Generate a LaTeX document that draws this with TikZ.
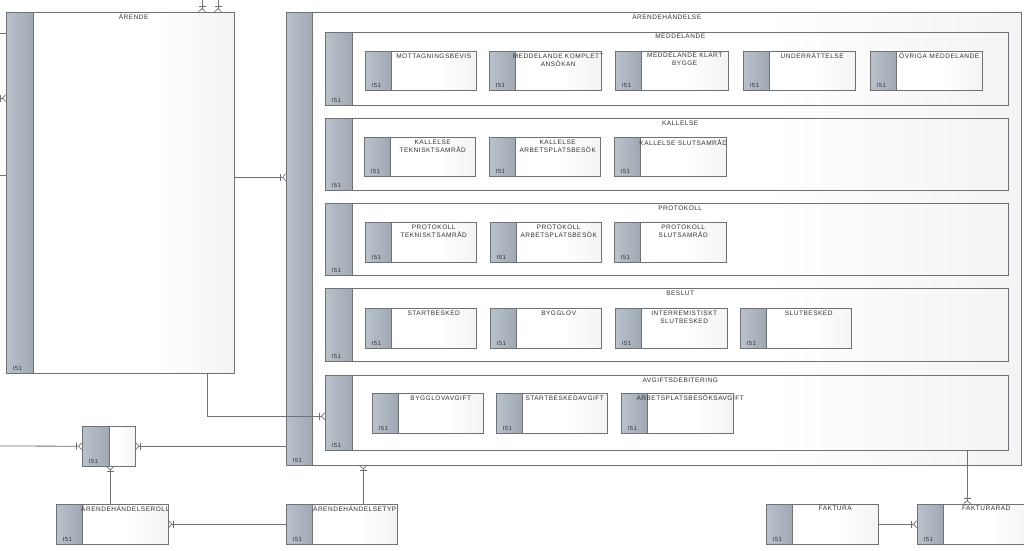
\documentclass[tikz,border=0pt]{standalone}
\usepackage{fontspec}
\setmainfont{Liberation Sans}
\newfontfamily\lblfont[LetterSpace=8]{Liberation Sans}
\usetikzlibrary{calc,arrows.meta}
\definecolor{edge}{RGB}{110,113,117}
\definecolor{stripL}{RGB}{186,194,202}
\definecolor{stripR}{RGB}{160,169,179}
\definecolor{txt}{RGB}{50,50,50}
\definecolor{shadeR}{RGB}{226,227,229}
\pgfdeclarehorizontalshading{entshade}{100bp}{color(0bp)=(white); color(50bp)=(white); color(58bp)=(white!99!shadeR); color(100bp)=(shadeR)}
\tikzset{
  entbox/.style={rectangle, inner sep=0pt, shading=entshade, draw=none},
  stripshade/.style={left color=stripL, right color=stripR},
  entline/.style={draw=edge, line width=0.8pt},
  lbl/.style={font=\lblfont\fontsize{6.5}{8}\selectfont, text=txt, align=center, inner sep=2.3pt},
  idl/.style={font=\lblfont\fontsize{6}{6.5}\selectfont, text=txt, inner sep=2.5pt, xshift=4pt},
  rel/.style={draw=edge, line width=0.8pt},
  crow/.style={rel, -{Bar[width=7pt,length=0.8pt,sep=1.2pt]Straight Barb[reversed,length=3pt,width=7pt,line width=0.7pt]}},
}
% #1 name, #2 x1, #3 y1, #4 x2, #5 y2, #6 label, #7 strip width
\newcommand\ent[7]{%
  \node[entbox, anchor=north west, minimum width={#4pt-#2pt}, minimum height={#5pt-#3pt}] (#1) at (#2,#3) {};
  \shade[stripshade] (#1.north west) rectangle ([xshift=#7pt]#1.south west);
  \draw[entline] ([xshift=#7pt]#1.north west) -- ([xshift=#7pt]#1.south west);
  \node[lbl, anchor=north] (#1-t) at ($([xshift=#7pt]#1.north west)!0.5!(#1.north east)$) {#6};
  \node[idl, anchor=south west] (#1-i) at (#1.south west) {I51};
  \draw[entline] (#1.north west) rectangle (#1.south east);
}
\begin{document}
\begin{tikzpicture}[x=1pt,y=-1pt]
\useasboundingbox (0,0) rectangle (1024,550);
\clip (0,0) rectangle (1024,550);
\fill[white] (0,0) rectangle (1024,550);

\ent{arende}{6}{12}{234}{373}{ÄRENDE}{27}
\ent{arh}{286}{12}{1021}{465}{ÄRENDEHÄNDELSE}{26}

\ent{medd}{325}{32}{1008}{105}{MEDDELANDE}{27}
\ent{kall}{325}{118}{1008}{190}{KALLELSE}{27}
\ent{prot}{325}{203}{1008}{275}{PROTOKOLL}{27}
\ent{besl}{325}{288}{1008}{361}{BESLUT}{27}
\ent{avg}{325}{375}{1008}{450}{AVGIFTSDEBITERING}{27}

\ent{m1}{365}{51}{476}{90}{MOTTAGNINGSBEVIS}{26}
\ent{m2}{489}{51}{601}{90}{MEDDELANDE KOMPLETT\\ANSÖKAN}{26}
\ent{m3}{615}{51}{728}{90}{MEDDELANDE KLART\\BYGGE}{26}
\ent{m4}{743}{51}{855}{90}{UNDERRÄTTELSE}{26}
\ent{m5}{870}{51}{982}{90}{ÖVRIGA MEDDELANDE}{26}

\ent{k1}{364}{137}{475}{176}{KALLELSE\\TEKNISKTSAMRÅD}{26}
\ent{k2}{489}{137}{600}{176}{KALLELSE\\ARBETSPLATSBESÖK}{26}
\ent{k3}{614}{137}{726}{176}{KALLELSE SLUTSAMRÅD}{26}

\ent{p1}{365}{222}{476}{262}{PROTOKOLL\\TEKNISKTSAMRÅD}{26}
\ent{p2}{490}{222}{601}{262}{PROTOKOLL\\ARBETSPLATSBESÖK}{26}
\ent{p3}{614}{222}{726}{262}{PROTOKOLL\\SLUTSAMRÅD}{26}

\ent{b1}{365}{308}{476}{348}{STARTBESKED}{26}
\ent{b2}{490}{308}{601}{348}{BYGGLOV}{26}
\ent{b3}{615}{308}{727}{348}{INTERREMISTISKT\\SLUTBESKED}{26}
\ent{b4}{740}{308}{851}{348}{SLUTBESKED}{26}

\ent{a1}{372}{393}{483}{433}{BYGGLOVAVGIFT}{26}
\ent{a2}{496}{393}{607}{433}{STARTBESKEDAVGIFT}{26}
\ent{a3}{621}{393}{733}{433}{ARBETSPLATSBESÖKSAVGIFT}{26}

\ent{sm}{82}{426}{135}{466}{}{27}
\ent{roll}{56}{504}{168}{544}{ÄRENDEHÄNDELSEROLL}{26}
\ent{typ}{286}{504}{397}{544}{ÄRENDEHÄNDELSETYP}{26}
\ent{fak}{766}{504}{878}{544}{FAKTURA}{26}
\ent{fr}{917}{504}{1029}{544}{FAKTURARAD}{26}

% free ends of connectors leaving the picture
\coordinate (s1) at (0,33);
\coordinate (s2) at (0,98);
\coordinate (s3) at (0,175);
\coordinate (s4) at (202,0);
\coordinate (s5) at (218,0);
\coordinate (s6) at (0,446);

\draw[rel] (s1) -- (s1 -| arende.west);
\draw[crow] (s2) -- (s2 -| arende.west);
\draw[rel] (s3) -- (s3 -| arende.west);
\draw[crow] (s4) -- (s4 |- arende.north);
\draw[crow] (s5) -- (s5 |- arende.north);
\draw[crow] (s6) -- (sm.west);

\draw[crow] ([yshift=15.5pt]arende.east) -- ([yshift=15.5pt]arende.east -| arh.west);
\draw[crow] ([xshift=-27pt]arende.south east) |- ([yshift=-3.5pt]avg.west);
\draw[crow] (arh.west |- sm.east) -- (sm.east);
\draw[crow] ([xshift=1.5pt]sm.south |- roll.north) -- ([xshift=1.5pt]sm.south);
\draw[crow] (typ.west) -- (roll.east);
\draw[crow] ([xshift=21.5pt]typ.north) -- ([xshift=21.5pt]typ.north |- arh.south);
\draw[crow] (fak.east) -- (fr.west);
\draw[crow] ([xshift=-6pt]fr.north |- avg.south) -- ([xshift=-6pt]fr.north);
\end{tikzpicture}
\end{document}
